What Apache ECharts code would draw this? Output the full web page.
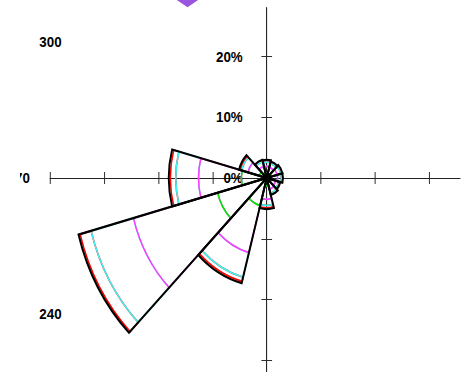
<!DOCTYPE html>
<html>
<head>
<meta charset="utf-8">
<script src="https://cdn.jsdelivr.net/npm/echarts@6/dist/echarts.min.js"></script>
<style>
  html, body { margin: 0; padding: 0; background: #fff; overflow: hidden; }
  #frame { position: absolute; left: 20px; top: 0; width: 443px; height: 372px; overflow: hidden; background: #fff; }
  /* the rose is drawn on a wider canvas and squeezed horizontally */
  #chart { position: absolute; left: -20px; top: 0; width: 520px; height: 430px;
           transform: scaleX(0.89); transform-origin: 0 0; }
</style>
</head>
<body>
<div id="frame"><div id="chart"></div></div>
<script>
// Wind directions (degrees, clockwise from north)
const directions = ['0', '30', '60', '90', '120', '150', '180', '210', '240', '270', '300', '330'];

// Frequency (%) per speed class, per direction
const class1 = [0.8, 0.7, 0.8, 0.8, 0.7, 0.8, 1.3, 4.7, 9.4, 4.7, 1.4, 0.8];
const class2 = [1.1, 1.1, 1.2, 1.2, 1.0, 1.1, 2.2, 8.0, 16.1, 7.9, 2.2, 1.2];
const class3 = [0.7, 0.7, 0.7, 0.7, 0.6, 0.7, 1.0, 4.2, 8.1, 4.2, 1.2, 0.8];
const class4 = [0.3, 0.2, 0.2, 0.2, 0.2, 0.2, 0.4, 0.7, 2.1, 1.0, 0.3, 0.2];
const class5 = [0.1, 0.1, 0.1, 0.1, 0.1, 0.1, 0.2, 0.3, 0.3, 0.3, 0.2, 0.1];

// Radial axis ticks (%)
const xTicks = [-40, -30, -20, -10, 0, 10, 20, 30];
const yTicks = [-40, -30, -20, -10, 0, 10, 20];
const yLabels = [0, 10, 20];

const totals = directions.map((_, i) =>
  Math.round((class1[i] + class2[i] + class3[i] + class4[i] + class5[i]) * 10) / 10);

// layout (canvas px before the horizontal squeeze)
const W = 520, H = 430;
const CX = 299.7, CY = 178;   // rose centre
const K = 6.08;               // px per 1 %
const X_MIN = -40, X_MAX = 35.7, Y_MIN = -40, Y_MAX = 28;

const FONT = { fontFamily: 'Liberation Sans, Arial, sans-serif', fontWeight: 'bold', fontSize: 15, color: '#000' };
const AXIS_LINE = { color: '#222', width: 1 };

// one of the two crossing axes through the centre (ticks on one side each);
// shifted from the grid edge to the centre with a negative offset
function crossAxis(dim, inside, withLabels) {
  const isX = dim === 'x';
  const ax = {
    type: 'value',
    min: isX ? X_MIN : Y_MIN,
    max: isX ? X_MAX : Y_MAX,
    position: isX ? 'bottom' : 'left',
    offset: isX ? Y_MIN * K : X_MIN * K,
    axisLine: { show: true, onZero: false, lineStyle: AXIS_LINE },
    axisTick: { show: true, inside: inside, length: 6, customValues: isX ? xTicks : yTicks,
                lineStyle: { color: '#222', width: 1 } },
    axisLabel: { show: false },
    splitLine: { show: false }
  };
  if (withLabels) {
    ax.axisLabel = Object.assign({ show: true, margin: 27, customValues: yLabels, formatter: '{value}%' }, FONT);
  }
  return ax;
}

const bandColors = ['#00e800', '#ff3cff', '#3cf5f5', '#ff0000'];
const classes = [class1, class2, class3, class4];

const series = classes.map((data, i) => ({
  type: 'bar',
  name: 'class ' + (i + 1),
  coordinateSystem: 'polar',
  stack: 'rose',
  data: data,
  z: 6 - i,
  barCategoryGap: '0%',
  barGap: '-100%',
  silent: true,
  itemStyle: { color: 'rgba(0,0,0,0)', borderColor: bandColors[i], borderWidth: 1.7 }
}));

// outer outline of every direction
series.push({
  type: 'bar',
  name: 'total',
  coordinateSystem: 'polar',
  data: totals,
  z: 8,
  barCategoryGap: '0%',
  barGap: '-100%',
  silent: true,
  itemStyle: { color: 'rgba(0,0,0,0)', borderColor: '#000', borderWidth: 2.2 }
});

const chart = echarts.init(document.getElementById('chart'), null, { renderer: 'svg' });
chart.setOption({
  animation: false,
  backgroundColor: '#fff',
  grid: {
    left: CX + X_MIN * K,
    right: W - (CX + X_MAX * K),
    top: CY - Y_MAX * K,
    bottom: H - (CY - Y_MIN * K),
    outerBoundsMode: 'none',
    containLabel: false
  },
  xAxis: [crossAxis('x', false, false), crossAxis('x', true, false)],
  yAxis: [crossAxis('y', false, true), crossAxis('y', true, false)],
  polar: { center: [CX, CY], radius: 40 * K },
  angleAxis: {
    type: 'category',
    data: directions,
    startAngle: 105,
    clockwise: true,
    boundaryGap: true,
    axisLine: { show: false },
    axisTick: { show: false },
    splitLine: { show: false },
    axisLabel: Object.assign({ interval: 0, margin: 23, lineHeight: 6 }, FONT)
  },
  radiusAxis: {
    type: 'value', min: 0, max: 40,
    axisLine: { show: false }, axisTick: { show: false },
    axisLabel: { show: false }, splitLine: { show: false }
  },
  graphic: [{
    type: 'polygon',
    silent: true,
    shape: { points: [[210.7, -16.7], [230.4, -4.7], [210.7, 7.3], [191, -4.7]] },
    style: { fill: '#9955dd' }
  }],
  series: series
});
</script>
</body>
</html>
